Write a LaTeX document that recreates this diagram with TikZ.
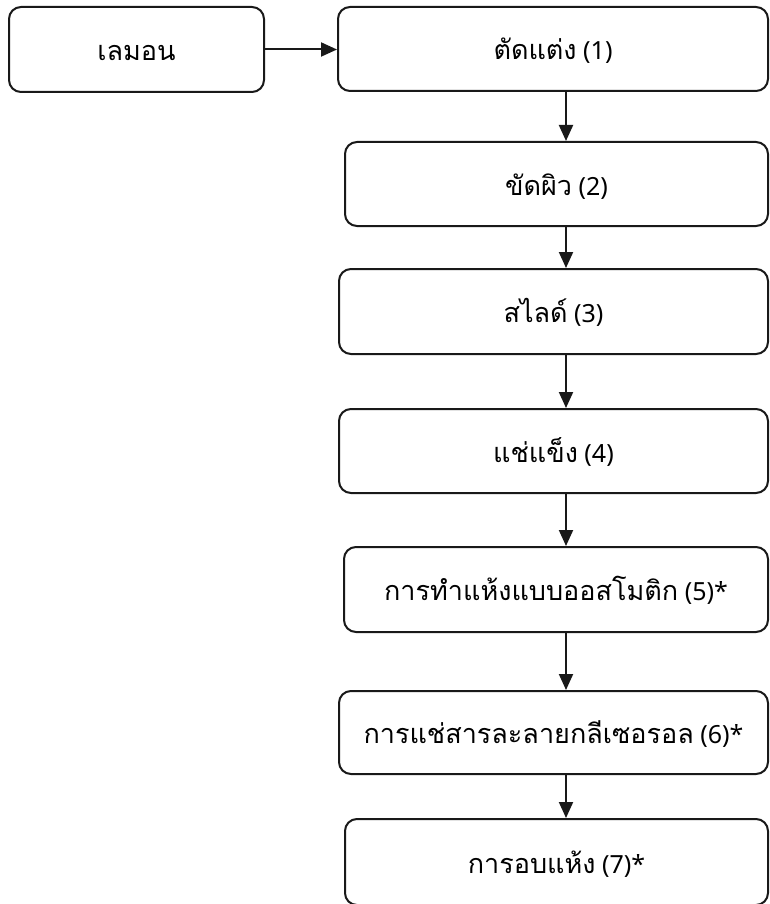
\documentclass[tikz,border=0pt]{standalone}
\usepackage{fontspec}
\setmainfont{Noto Sans}
\newfontfamily\thaifont[Script=Thai]{Loma}
\newcommand\thaiword[1]{{\thaifont\fontsize{27}{32}\selectfont #1}}
\usetikzlibrary{arrows.meta}
\tikzset{
	stagebox/.style = {draw = black!90, rounded corners = 12pt, line width = 2pt, inner sep = 0pt, text height = 22pt, text depth = 0pt, font = \fontsize{25}{30}\selectfont},
	flow/.style = {draw = black!90, line width = 2pt, -{Triangle[length = 16pt, width = 14pt]}}
}
\begin{document}
\begin{tikzpicture}[x = 1pt, y = -1pt]
		\useasboundingbox (0, 0) rectangle (769, 904);
		\node[stagebox, minimum width = 255pt, minimum height = 85pt] (lemon) at (136.5, 49.5) {\thaiword{เลมอน}};
		\node[stagebox, minimum width = 430pt, minimum height = 84pt] (trim) at (553, 49) {\thaiword{ตัดแต่ง} (1)};
		\node[stagebox, minimum width = 423pt, minimum height = 84pt] (peel) at (556.5, 184) {\thaiword{ขัดผิว} (2)};
		\node[stagebox, minimum width = 429pt, minimum height = 85pt] (slice) at (553.5, 311.5) {\thaiword{สไลด์} (3)};
		\node[stagebox, minimum width = 429pt, minimum height = 84pt] (freeze) at (553.5, 451) {\thaiword{แช่แข็ง} (4)};
		\node[stagebox, minimum width = 424pt, minimum height = 85pt] (osmo) at (556, 589.5) {\thaiword{การทำแห้งแบบออสโมติก} (5)*};
		\node[stagebox, minimum width = 429pt, minimum height = 83pt] (soak) at (553.5, 732.5) {\thaiword{การแช่สารละลายกลีเซอรอล} (6)*};
		\node[stagebox, minimum width = 423pt, minimum height = 86pt] (dry) at (556.5, 862) {\thaiword{การอบแห้ง} (7)*};
		\coordinate (ax) at (566, 0);
		\draw[flow] (lemon.east) -- (lemon.east -| trim.west);
		\draw[flow] (trim.south -| ax) -- (peel.north -| ax);
		\draw[flow] (peel.south -| ax) -- (slice.north -| ax);
		\draw[flow] (slice.south -| ax) -- (freeze.north -| ax);
		\draw[flow] (freeze.south -| ax) -- (osmo.north -| ax);
		\draw[flow] (osmo.south -| ax) -- (soak.north -| ax);
		\draw[flow] (soak.south -| ax) -- (dry.north -| ax);
	\end{tikzpicture}
\end{document}
